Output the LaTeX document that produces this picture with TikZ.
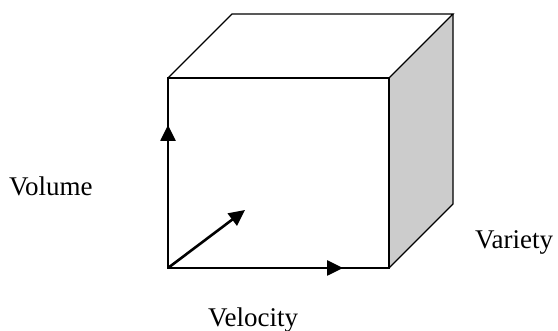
\documentclass[tikz,border=0pt]{standalone}
\usepackage{fontspec}
\setmainfont{Liberation Serif}
\usetikzlibrary{arrows.meta}
\begin{document}
\begin{tikzpicture}[x=1pt,y=-1pt,
  edge/.style={line width=1.4pt,line join=miter},
  axis/.style={line width=2.6pt,-{Triangle[length=16pt,width=15pt]}},
  lbl/.style={inner sep=0pt,font=\fontsize{27}{31}\selectfont}]
\useasboundingbox (0,0) rectangle (558,331);
% corners
\coordinate (fbl) at (168,268);
\coordinate (fbr) at (389,268);
\coordinate (ftl) at (168,78);
\coordinate (ftr) at (389,78);
\coordinate (btl) at (232,14);
\coordinate (btr) at (453,14);
\coordinate (bbr) at (453,204);
% right face
\fill[fill={rgb,255:red,204;green,204;blue,204}] (ftr) -- (btr) -- (bbr) -- (fbr) -- cycle;
% cube edges
\draw[edge] (fbl) -- (ftl) -- (ftr) -- (fbr) -- cycle;
\draw[edge] (ftl) -- (btl) -- (btr) -- (ftr);
\draw[edge] (btr) -- (bbr) -- (fbr);
% axes
\coordinate (tipup) at (168,125);
\coordinate (tipright) at (343,268);
\coordinate (tipdiag) at (245,210);
\draw[axis] (fbl) -- (tipup);
\draw[axis] (fbl) -- (tipright);
\draw[axis] (fbl) -- (tipdiag);
% labels
\node[lbl,anchor=base west] (volume) at (9,196) {Volume};
\node[lbl,anchor=base west] (variety) at (475,249) {Variety};
\node[lbl,anchor=base west] (velocity) at (208,327) {Velocity};
\end{tikzpicture}
\end{document}
